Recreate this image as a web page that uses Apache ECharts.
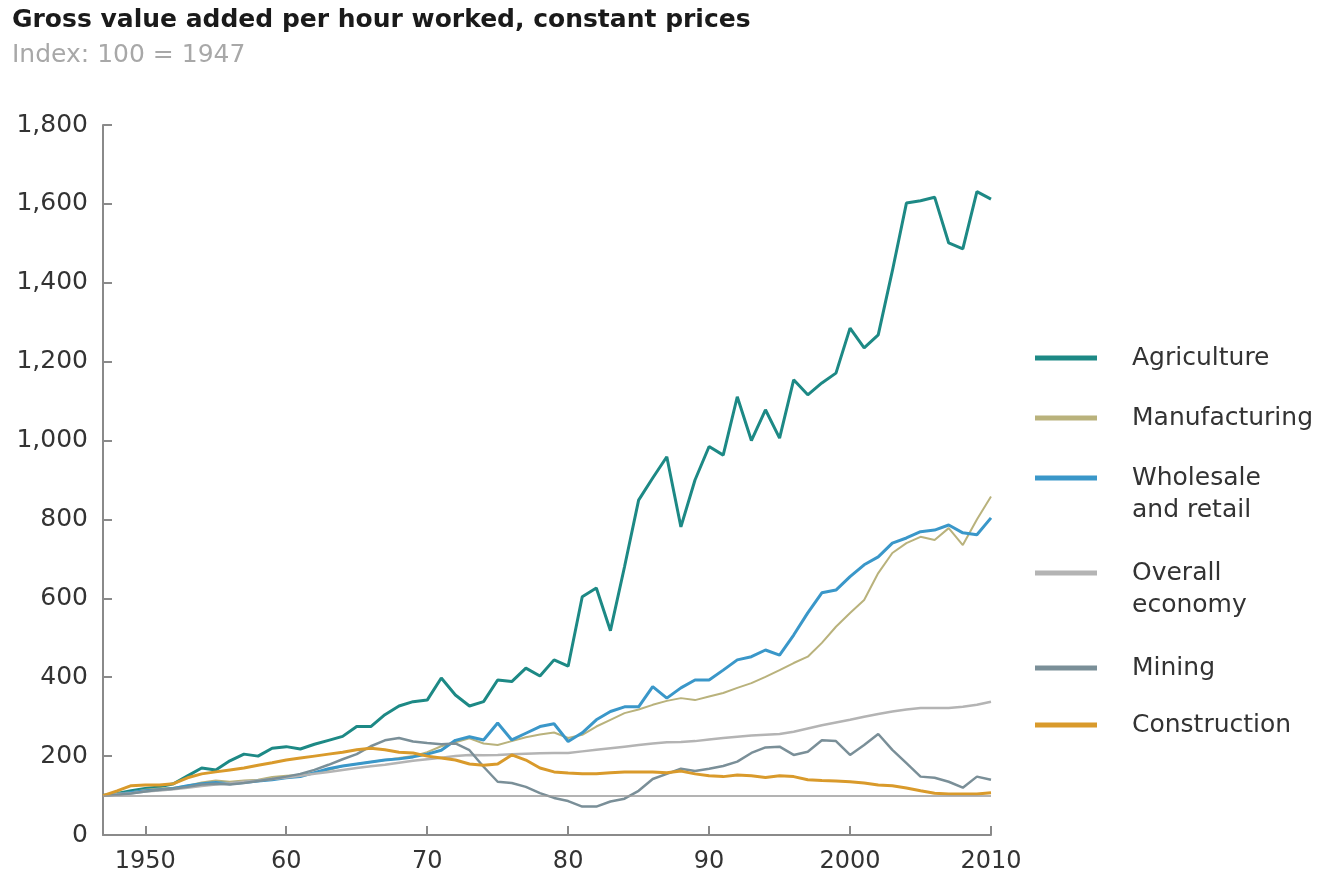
<!DOCTYPE html>
<html>
<head>
<meta charset="utf-8">
<title>Gross value added per hour worked</title>
<script src="https://cdn.jsdelivr.net/npm/echarts@6/dist/echarts.min.js"></script>
<style>
  html, body { margin: 0; padding: 0; background: #fff; }
  #chart { width: 1324px; height: 883px; }
</style>
</head>
<body>
<div id="chart"></div>
<script>
// data (index, 100 = 1947)
var years = [
  '1947','1948','1949','1950','1951','1952','1953','1954','1955','1956',
  '1957','1958','1959','1960','1961','1962','1963','1964','1965','1966',
  '1967','1968','1969','1970','1971','1972','1973','1974','1975','1976',
  '1977','1978','1979','1980','1981','1982','1983','1984','1985','1986',
  '1987','1988','1989','1990','1991','1992','1993','1994','1995','1996',
  '1997','1998','1999','2000','2001','2002','2003','2004','2005','2006',
  '2007','2008','2009','2010'
];

var agriculture = [
  100, 105, 112, 118, 122, 130, 150, 170, 165, 188,
  205, 200, 220, 224, 218, 230, 240, 250, 275, 275,
  305, 327, 338, 342, 398, 355, 327, 338, 393, 389,
  423, 403, 444, 428, 604, 626, 518, 680, 849, 905,
  959, 781, 900, 985, 963, 1111, 1000, 1078, 1006, 1154,
  1116, 1146, 1171, 1285, 1235, 1268, 1430, 1602, 1608, 1617,
  1501, 1486, 1631, 1612
];

var manufacturing = [
  100, 105, 108, 115, 118, 120, 125, 133, 138, 135,
  138, 140, 147, 150, 152, 158, 165, 175, 180, 185,
  190, 195, 200, 210, 225, 235, 245, 232, 228, 238,
  248, 255, 260, 246, 254, 275, 292, 309, 318, 330,
  340, 347, 342, 351, 360, 373, 385, 401, 418, 436,
  452, 487, 528, 563, 596, 664, 715, 740, 756, 748,
  778, 735, 800, 858
];

var wholesale = [
  100, 103, 108, 112, 115, 118, 125, 130, 133, 130,
  133, 137, 140, 145, 148, 158, 168, 175, 180, 185,
  190, 193, 198, 205, 215, 240, 249, 241, 284, 241,
  258, 275, 282, 237, 259, 292, 313, 325, 325, 376,
  347, 373, 393, 393, 418, 444, 452, 469, 456, 507,
  563, 614, 621, 655, 685, 705, 740, 753, 769, 773,
  786, 766, 761, 804
];

var overall = [
  100, 103, 106, 110, 113, 116, 120, 124, 128, 131,
  135, 138, 142, 146, 150, 155, 160, 165, 170, 174,
  178, 183, 188, 192, 196, 200, 203, 202, 203, 205,
  206, 207, 208, 208, 212, 216, 220, 224, 228, 232,
  235, 236, 238, 242, 246, 249, 252, 254, 256, 262,
  270, 278, 285, 292, 300, 307, 313, 318, 322, 322,
  322, 325, 330, 338
];

var mining = [
  100, 102, 105, 110, 115, 117, 122, 128, 130, 128,
  132, 137, 142, 148, 155, 165, 178, 192, 205, 225,
  240, 246, 237, 233, 230, 232, 215, 173, 135, 132,
  122, 106, 94, 86, 72, 72, 85, 92, 112, 142,
  155, 168, 162, 168, 175, 186, 208, 222, 224, 203,
  211, 240, 238, 203, 228, 256, 216, 182, 148, 145,
  135, 120, 148, 140
];

var construction = [
  100, 112, 125, 127, 127, 130, 145, 155, 160, 165,
  170, 177, 183, 190, 195, 200, 205, 210, 216, 220,
  216, 210, 208, 200, 195, 190, 180, 177, 180, 203,
  190, 170, 160, 157, 155, 155, 158, 160, 160, 160,
  158, 162, 155, 150, 148, 152, 150, 146, 150, 148,
  140, 138, 137, 135, 132, 127, 125, 119, 112, 106,
  104, 104, 104, 107
];

var seriesNames = ['Agriculture', 'Manufacturing', 'Wholesale and retail',
  'Overall economy', 'Mining', 'Construction'];
var legendLabels = ['Agriculture', 'Manufacturing', ' \nWholesale\nand retail',
  ' \nOverall\neconomy', 'Mining', 'Construction'];
var xTickLabels = { '1950': '1950', '1960': '60', '1970': '70', '1980': '80',
  '1990': '90', '2000': '2000', '2010': '2010' };
var baseline = 100;

var colors = ['#1d8985', '#b9b27c', '#3a97c9', '#b4b4b4', '#7a8f98', '#d99a2b'];
var widths = [3, 2, 3, 2.5, 2.5, 3];
var values = [agriculture, manufacturing, wholesale, overall, mining, construction];

// legend layout: centre of the icon line for each entry
var legendCentres = [358, 418, 478, 573, 668, 725];

var chart = echarts.init(document.getElementById('chart'));

var fontFam = "'DejaVu Sans', Verdana, sans-serif";

var series = [];
var legends = [];
for (var i = 0; i < seriesNames.length; i++) {
  series.push({
    name: seriesNames[i],
    type: 'line',
    data: values[i],
    symbol: 'none',
    color: colors[i],
    lineStyle: { width: widths[i], color: colors[i] },
    z: 3,
    animation: false
  });
  var multi = legendLabels[i].indexOf('\n') >= 0;
  legends.push({
    orient: 'vertical',
    left: 1035,
    top: legendCentres[i] - (multi ? 48 : 16),
    padding: 0,
    itemWidth: 62,
    itemHeight: 5,
    icon: 'rect',
    selectedMode: false,
    itemStyle: { borderWidth: 0 },
    data: [seriesNames[i]],
    formatter: (function (lbl) { return function () { return lbl; }; })(legendLabels[i]),
    textStyle: {
      fontFamily: fontFam,
      fontSize: 25,
      lineHeight: 32,
      color: '#333',
      padding: [0, 0, 0, 30]
    }
  });
}

// grey reference line at the base year level
series[3].markLine = {
  silent: true,
  symbol: 'none',
  label: { show: false },
  lineStyle: { color: '#9a9a9a', width: 1.5, type: 'solid' },
  data: [{ yAxis: baseline }],
  animation: false
};

var showTick = function (idx, val) { return xTickLabels.hasOwnProperty(val); };

var option = {
  backgroundColor: '#fff',
  animation: false,
  title: {
    text: 'Gross value added per hour worked, constant prices',
    subtext: 'Index: 100 = 1947',
    left: 12,
    top: 8,
    itemGap: 10,
    padding: 0,
    textStyle: { fontFamily: fontFam, fontSize: 25, fontWeight: 'bold', color: '#1a1a1a' },
    subtextStyle: { fontFamily: fontFam, fontSize: 25, color: '#a8a8a8' }
  },
  legend: legends,
  grid: { left: 103, right: 333, top: 125, bottom: 48, containLabel: false },
  xAxis: {
    type: 'category',
    data: years,
    boundaryGap: false,
    axisLine: { lineStyle: { color: '#8a8a8a', width: 2 } },
    axisTick: { show: true, inside: true, length: 9, interval: showTick,
      lineStyle: { color: '#8a8a8a', width: 2 } },
    axisLabel: {
      interval: showTick,
      formatter: function (val) { return xTickLabels[val] || ''; },
      fontFamily: fontFam, fontSize: 24, color: '#333', margin: 15
    },
    splitLine: { show: false }
  },
  yAxis: {
    type: 'value',
    min: 0,
    max: 1800,
    interval: 200,
    axisLine: { show: true, lineStyle: { color: '#8a8a8a', width: 2 } },
    axisTick: { show: true, inside: true, length: 9, lineStyle: { color: '#8a8a8a', width: 2 } },
    axisLabel: {
      formatter: function (v) { return v.toLocaleString('en-US'); },
      fontFamily: fontFam, fontSize: 25, color: '#333', margin: 15
    },
    splitLine: { show: false }
  },
  series: series
};

chart.setOption(option);
</script>
</body>
</html>
